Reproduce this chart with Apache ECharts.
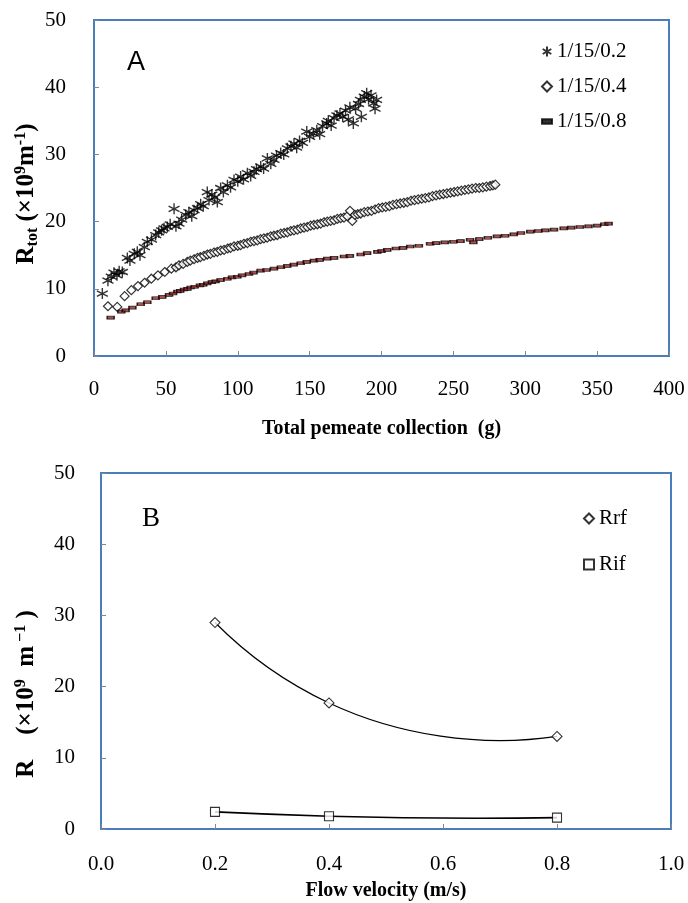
<!DOCTYPE html>
<html>
<head>
<meta charset="utf-8">
<script src="https://cdn.jsdelivr.net/npm/echarts@6/dist/echarts.min.js"></script>
<style>
  html, body { margin: 0; padding: 0; background: #fff; }
  #chart { width: 688px; height: 903px; }
</style>
</head>
<body>
<div id="chart"></div>
<script>
// ---- panel A: total resistance vs permeate collected ----
const seriesA02 = [
  [5.8,9.3],[9.7,11.2],[12,11.8],[13.9,12.4],[16,12.0],[17.5,12.6],[19.7,12.5],[23.2,14.6],[25,14.2],[28,15.2],
  [30.1,15.5],[32,15.0],[35,16.2],[37.1,17.0],[40,17.3],[42.9,18.0],[45,18.4],[47,18.7],[48.7,19.0],[51,19.2],
  [53,19.6],[55.7,21.9],[57,19.3],[59.1,19.7],[61,20.3],[63.8,21.0],[66,21.4],[68,20.8],[69.6,21.7],[72,22.0],
  [74.2,22.6],[76,22.3],[78.8,24.4],[80,23.2],[82,24.0],[84,23.6],[85.8,22.9],[88.1,25.0],[90,24.4],[92.8,25.4],
  [95,25.1],[97.4,26.2],[100,26.0],[102,26.7],[104,26.3],[106.7,27.2],[109,26.8],[111.3,27.4],[113,27.8],[116,28.2],
  [118,27.9],[120.6,29.4],[123,28.6],[125.2,29.2],[127,29.8],[129.9,30.2],[132,30.0],[134.5,30.9],[137,31.2],[139.1,31.6],
  [141,31.0],[143,32.0],[145,31.7],[148,33.4],[150,32.6],[152.6,33.1],[155,33.6],[157,33.0],[159,34.2],[161.9,34.6],
  [163,35.0],[165,34.3],[167,35.4],[169,35.8],[171.1,36.1],[173,35.6],[175,36.5],[177,35.2],[178,37.0],[180.4,34.6],
  [182,36.8],[184,37.5],[185.3,38.1],[186,35.6],[188,38.6],[189.7,39.1],[191,38.2],[192.7,38.8],[194.5,37.6],[195.5,36.8],
  [196.6,38.1]
];
const seriesA04 = [
  [9.7,7.4],[16.2,7.3],[21.3,8.9],[26,9.8],[30.6,10.4],[35.2,10.9],[39.9,11.5],[44.5,12.0],[49.2,12.5],[53.8,13.0],
  [57,13.2],[59.1,13.5],[62,13.7],[64.9,14.0],[67,14.2],[69.6,14.4],[72,14.6],[74,14.7],[76.5,14.9],[78.8,15.1],
  [81,15.2],[83.5,15.4],[85.8,15.5],[88.1,15.7],[90.5,15.8],[93,16.0],[95,16.1],[97.4,16.3],[100,16.4],[102,16.5],
  [104.3,16.7],[106.7,16.8],[109,17.0],[111.3,17.1],[113.6,17.2],[115.9,17.4],[118.2,17.5],[120.5,17.6],[122.9,17.8],[125.2,17.9],
  [127.5,18.0],[129.9,18.2],[132.2,18.3],[134.5,18.4],[136.8,18.6],[139.1,18.7],[141.5,18.8],[143.8,19.0],[146.1,19.1],[148.4,19.2],
  [150.7,19.4],[153,19.5],[155.4,19.6],[157.7,19.7],[160,19.9],[162.3,20.0],[164.6,20.1],[167,20.2],[169.3,20.4],[171.6,20.5],
  [173.9,20.6],[176.2,20.8],[178.1,21.6],[179.7,20.1],[181.5,21.0],[183.5,21.1],[185.5,21.2],[188,21.4],[190.5,21.5],[193,21.6],
  [195.5,21.8],[198,22.0],[200.5,22.1],[203,22.2],[205.5,22.3],[208,22.5],[210.5,22.6],[213,22.7],[215.5,22.8],[218,22.9],
  [220.5,23.1],[223,23.2],[225.5,23.3],[228,23.4],[230.5,23.5],[233,23.6],[235.5,23.8],[238,23.9],[240.5,24.0],[243,24.1],
  [245.5,24.2],[248,24.3],[250.5,24.4],[253,24.5],[255.5,24.6],[258,24.7],[260.5,24.8],[263,24.9],[265.5,25.0],[268,25.0],
  [270.5,25.1],[273,25.2],[275.5,25.3],[277.5,25.4],[279.2,25.5]
];
const seriesA08 = [
  [11.6,5.7],[19,6.6],[22,6.8],[26.7,7.2],[32.5,7.7],[37.1,8.0],[42.9,8.6],[47.5,8.8],[52.2,9.1],[55,9.3],
  [58,9.6],[60,9.7],[62.6,9.9],[65,10.0],[67.2,10.2],[70,10.3],[73.7,10.5],[76,10.6],[78.8,10.8],[82,11.0],
  [84.6,11.1],[88,11.3],[92.8,11.5],[96,11.7],[99.7,11.8],[103,12.0],[107.8,12.2],[111,12.4],[115.9,12.7],[120,12.8],
  [125.2,13.0],[130,13.2],[134.5,13.4],[139,13.6],[143.8,13.8],[148,14.0],[153,14.2],[157,14.3],[162.3,14.5],[167,14.6],
  [173.9,14.8],[178,14.9],[185.5,15.1],[190,15.3],[197.1,15.5],[200,15.6],[204,15.8],[210,16.0],[215,16.1],[220,16.3],
  [226,16.4],[233.8,16.7],[238,16.8],[244,16.9],[250,17.0],[255,17.1],[261.6,17.3],[263.9,16.9],[268,17.4],[274,17.6],
  [280.3,17.8],[286,17.9],[292,18.1],[297,18.3],[303.5,18.5],[309,18.6],[314,18.7],[320,18.8],[326.7,19.0],[332,19.1],
  [338,19.2],[344,19.3],[350,19.4],[355,19.6],[358,19.7]
];
const namesA = ['1/15/0.2', '1/15/0.4', '1/15/0.8'];

// ---- panel B: fouling resistances vs flow velocity ----
const velocity = [0.2, 0.4, 0.8];
const rrf = [29.0, 17.7, 13.0];
const rif = [2.4, 1.8, 1.6];
const namesB = ['Rrf', 'Rif'];

const serif = '"Liberation Serif", "Times New Roman", serif';
const blue = '#4a7ebb';
const tickGray = '#868686';
const starPath = 'path://M5,0L5,10M0.7,2.5L9.3,7.5M0.7,7.5L9.3,2.5';
const dashPath = 'path://M0,0L7,0L7,3L0,3Z';

const chart = echarts.init(document.getElementById('chart'));

// spreadsheet-style smoothed curve through pixel points (can overshoot, unlike echarts smooth)
const smoothPath = (pts) => {
  const n = pts.length;
  const seg = [];
  for (let i = 0; i < n - 1; i++) {
    const dx = pts[i + 1][0] - pts[i][0], dy = pts[i + 1][1] - pts[i][1];
    const len = Math.hypot(dx, dy) || 1;
    seg.push({ len, ux: dx / len, uy: dy / len });
  }
  const tan = pts.map((p, i) => {
    if (i === 0 || i === n - 1) return null;
    const a = seg[i - 1], b = seg[i];
    const tx = a.ux / a.len + b.ux / b.len, ty = a.uy / a.len + b.uy / b.len;
    const l = Math.hypot(tx, ty) || 1;
    return [tx / l, ty / l];
  });
  let d = 'M' + pts[0][0] + ' ' + pts[0][1];
  for (let i = 0; i < n - 1; i++) {
    const p = pts[i], q = pts[i + 1], s = seg[i];
    const arm = s.len / 3;
    let c1 = tan[i] ? [p[0] + arm * tan[i][0], p[1] + arm * tan[i][1]] : null;
    let c2 = tan[i + 1] ? [q[0] - arm * tan[i + 1][0], q[1] - arm * tan[i + 1][1]] : null;
    const mirror = (c) => {
      const rx = c[0] - p[0], ry = c[1] - p[1];
      const u = rx * s.ux + ry * s.uy, v = -rx * s.uy + ry * s.ux;
      const u2 = s.len - u;
      return [p[0] + u2 * s.ux - v * s.uy, p[1] + u2 * s.uy + v * s.ux];
    };
    if (!c1 && !c2) {
      c1 = [p[0] + arm * s.ux, p[1] + arm * s.uy];
      c2 = [q[0] - arm * s.ux, q[1] - arm * s.uy];
    } else if (!c1) {
      c1 = mirror(c2);
    } else if (!c2) {
      c2 = mirror(c1);
    }
    d += 'C' + c1[0] + ' ' + c1[1] + ' ' + c2[0] + ' ' + c2[1] + ' ' + q[0] + ' ' + q[1];
  }
  return d;
};

const curveSeries = (name, xs, ys, width) => ({
  name: name, type: 'custom', xAxisIndex: 1, yAxisIndex: 1, z: 1, silent: true,
  data: xs.map((v, i) => [v, ys[i]]),
  renderItem: (params, api) => {
    if (params.dataIndex !== 0) return null;
    const pts = xs.map((v, i) => api.coord([v, ys[i]]));
    return {
      type: 'path',
      shape: { pathData: smoothPath(pts) },
      style: { stroke: '#000', fill: 'none', lineWidth: width }
    };
  }
});

const valueAxis = (extra) => Object.assign({
  type: 'value',
  axisLine: { show: false },
  axisTick: { show: true, inside: true, length: 5, lineStyle: { color: tickGray } },
  splitLine: { show: false },
  axisLabel: { color: '#000', fontFamily: serif, fontSize: 21 },
  nameTextStyle: { color: '#000', fontFamily: serif, fontSize: 20, fontWeight: 'bold' }
}, extra);

const richTitle = {
  b: { fontFamily: serif, fontSize: 25, fontWeight: 'bold', color: '#000', lineHeight: 28 },
  sub: { fontFamily: serif, fontSize: 16, fontWeight: 'bold', color: '#000', verticalAlign: 'bottom', lineHeight: 28 },
  sup: { fontFamily: serif, fontSize: 16, fontWeight: 'bold', color: '#000', verticalAlign: 'top', lineHeight: 22 }
};

const option = {
  animation: false,
  backgroundColor: '#fff',
  grid: [
    { left: 94, top: 20, width: 575, height: 336, show: true, borderColor: blue, borderWidth: 2, backgroundColor: 'transparent' },
    { left: 101, top: 473, width: 570, height: 356, show: true, borderColor: blue, borderWidth: 2, backgroundColor: 'transparent' }
  ],
  xAxis: [
    valueAxis({
      gridIndex: 0, min: 0, max: 400, interval: 50,
      name: 'Total pemeate collection  (g)', nameLocation: 'middle', nameGap: 63,
      axisLabel: { color: '#000', fontFamily: serif, fontSize: 21, margin: 23 }
    }),
    valueAxis({
      gridIndex: 1, min: 0, max: 1, interval: 0.2,
      name: 'Flow velocity (m/s)', nameLocation: 'middle', nameGap: 52,
      axisLabel: { color: '#000', fontFamily: serif, fontSize: 21, margin: 25, formatter: v => v.toFixed(1) }
    })
  ],
  yAxis: [
    valueAxis({
      gridIndex: 0, min: 0, max: 50, interval: 10,
      axisLabel: { color: '#000', fontFamily: serif, fontSize: 21, margin: 28 }
    }),
    valueAxis({
      gridIndex: 1, min: 0, max: 50, interval: 10,
      axisLabel: { color: '#000', fontFamily: serif, fontSize: 21, margin: 26 }
    })
  ],
  legend: [
    {
      orient: 'vertical', left: 536, top: 36, itemGap: 14, itemWidth: 10, itemHeight: 10,
      textStyle: { fontFamily: serif, fontSize: 21, color: '#000' },
      data: [namesA[0], namesA[1], { name: namesA[2], icon: dashPath, itemStyle: { color: '#000', borderColor: '#000' } }]
    },
    {
      orient: 'vertical', left: 578, top: 503, itemGap: 25, itemWidth: 10, itemHeight: 10,
      textStyle: { fontFamily: serif, fontSize: 21, color: '#000' },
      data: [{ name: namesB[0], icon: 'diamond' }, { name: namesB[1], icon: 'rect' }]
    }
  ],
  graphic: [
    { type: 'text', left: 127, top: 49, style: { text: 'A', font: '27px "Liberation Sans", Arial, sans-serif', fill: '#000' } },
    { type: 'text', left: 142, top: 505, style: { text: 'B', font: '27px "Liberation Serif", serif', fill: '#000' } },
    {
      type: 'text', x: 27, y: 194, rotation: Math.PI / 2,
      style: {
        text: '{b|R}{sub|tot}{b| (×10}{sup|9}{b|m}{sup|-1}{b|)}',
        rich: richTitle, align: 'center', verticalAlign: 'middle'
      }
    },
    {
      type: 'text', x: 27, y: 694, rotation: Math.PI / 2,
      style: {
        text: '{b|R    (×10}{sup|9}{b|  m}{sup| −1}{b| )}',
        rich: richTitle, align: 'center', verticalAlign: 'middle'
      }
    }
  ],
  series: [
    {
      name: namesA[0], type: 'scatter', xAxisIndex: 0, yAxisIndex: 0,
      data: seriesA02, symbol: starPath, symbolSize: 11,
      itemStyle: { color: '#000', borderColor: '#000', borderWidth: 1.4 }
    },
    {
      name: namesA[1], type: 'scatter', xAxisIndex: 0, yAxisIndex: 0,
      data: seriesA04, symbol: 'diamond', symbolSize: 9,
      itemStyle: { color: '#fff', borderColor: '#000', borderWidth: 1.2 }
    },
    {
      name: namesA[2], type: 'scatter', xAxisIndex: 0, yAxisIndex: 0,
      data: seriesA08, symbol: 'rect', symbolSize: [7, 3],
      itemStyle: { color: '#8c2424', borderColor: '#000', borderWidth: 1 }
    },
    {
      name: namesB[0], type: 'scatter', xAxisIndex: 1, yAxisIndex: 1, z: 3,
      data: velocity.map((v, i) => [v, rrf[i]]),
      symbol: 'diamond', symbolSize: 10,
      itemStyle: { color: '#fff', borderColor: '#000', borderWidth: 1.1 }
    },
    {
      name: namesB[1], type: 'scatter', xAxisIndex: 1, yAxisIndex: 1, z: 3,
      data: velocity.map((v, i) => [v, rif[i]]),
      symbol: 'rect', symbolSize: 9,
      itemStyle: { color: '#fff', borderColor: '#000', borderWidth: 1.1 }
    },
    curveSeries('Rrf curve', velocity, rrf, 1.2),
    curveSeries('Rif curve', velocity, rif, 1.6)
  ]
};

chart.setOption(option);
window.addEventListener('resize', () => chart.resize());
</script>
</body>
</html>
